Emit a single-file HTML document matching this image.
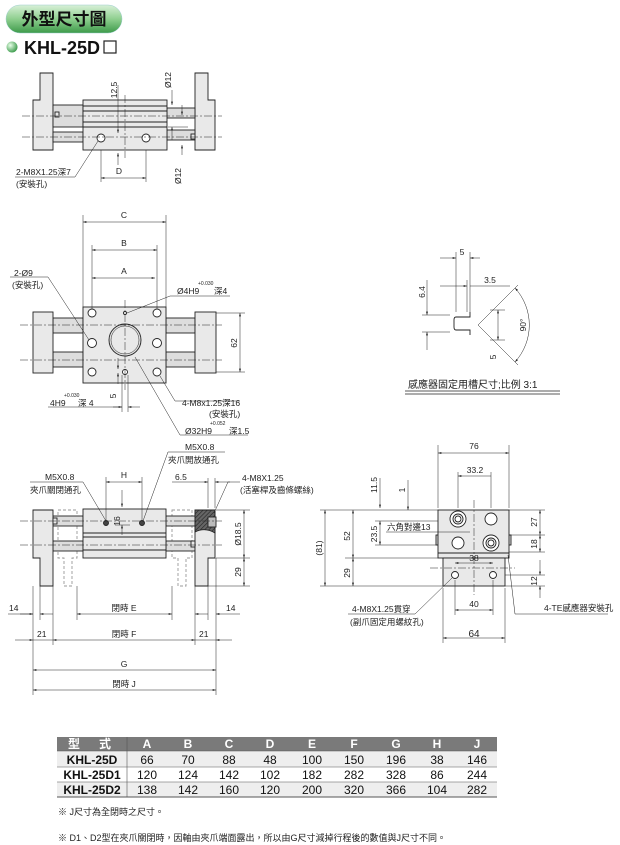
<!DOCTYPE html>
<html><head><meta charset="utf-8"><style>
html,body{margin:0;padding:0;background:#fff;}
svg{display:block;font-family:"Liberation Sans","Noto Sans CJK TC",sans-serif;}
</style></head><body>
<svg width="620" height="845" viewBox="0 0 620 845" xmlns="http://www.w3.org/2000/svg">
<defs>
<linearGradient id="pill" x1="0" y1="0" x2="0" y2="1"><stop offset="0" stop-color="#d8f0d8"/><stop offset="0.5" stop-color="#8fcf8f"/><stop offset="1" stop-color="#3d9a4a"/></linearGradient>
<radialGradient id="ball" cx="0.35" cy="0.35" r="0.7"><stop offset="0" stop-color="#e8ffe8"/><stop offset="1" stop-color="#3a9a4a"/></radialGradient>
<marker id="a" viewBox="0 0 10 6" refX="10" refY="3" markerWidth="7" markerHeight="4" orient="auto-start-reverse"><path d="M0,0L10,3L0,6z" fill="#222"/></marker>
<pattern id="hatch" width="3" height="3" patternUnits="userSpaceOnUse" patternTransform="rotate(45)"><rect width="3" height="3" fill="#666"/><line x1="0" y1="0" x2="0" y2="3" stroke="#222" stroke-width="1.2"/></pattern>
</defs>
<!-- header -->
<rect x="6" y="5" width="116" height="28" rx="14" fill="url(#pill)" stroke="#9cc" stroke-width="0.5"/>
<text x="64" y="25" font-size="17" font-weight="bold" text-anchor="middle" fill="#111">外型尺寸圖</text>
<circle cx="12" cy="47" r="5.5" fill="url(#ball)"/>
<text x="24" y="54" font-size="18" font-weight="bold" fill="#111">KHL-25D</text>
<rect x="104" y="41" width="12" height="12" fill="#fff" stroke="#222" stroke-width="1.2"/>

<g stroke="#222" stroke-width="0.9" fill="#e9e9e9" font-size="8.5">
<!-- Drawing 1 -->
<path d="M40,73H53V150H33V100H40Z"/>
<path d="M195,73H208V100H215V150H195Z"/>
<rect x="53" y="105" width="30" height="22" fill="#ddd"/>
<rect x="53" y="132" width="30" height="10" fill="#ddd"/>
<rect x="167" y="108" width="28" height="10" fill="#ddd"/>
<rect x="167" y="130" width="28" height="10" fill="#ddd"/>
<rect x="83" y="100" width="84" height="50"/>
<line x1="83" y1="106" x2="167" y2="106"/><line x1="83" y1="111" x2="167" y2="111"/><line x1="83" y1="122" x2="167" y2="122"/><line x1="83" y1="127" x2="167" y2="127"/>
<rect x="55" y="112" width="4" height="5"/><rect x="191" y="134" width="4" height="5"/>
<circle cx="101" cy="138" r="4" fill="#fff"/><circle cx="146" cy="138" r="4" fill="#fff"/>
<g fill="none" stroke-width="0.5" stroke-dasharray="8,2,2,2"><line x1="22" y1="116" x2="222" y2="116"/><line x1="22" y1="137" x2="222" y2="137"/><line x1="125" y1="95" x2="125" y2="158"/></g>
<g fill="none" stroke-width="0.5">
<line x1="101" y1="150" x2="101" y2="182"/><line x1="146" y1="150" x2="146" y2="182"/>
<line x1="101" y1="178" x2="146" y2="178" marker-start="url(#a)" marker-end="url(#a)"/>
<line x1="118" y1="85" x2="118" y2="133" marker-end="url(#a)"/><line x1="118" y1="165" x2="118" y2="153" marker-end="url(#a)"/>
<line x1="172" y1="90" x2="172" y2="105" marker-end="url(#a)"/><line x1="172" y1="140" x2="172" y2="127" marker-end="url(#a)"/>
<line x1="182" y1="105" x2="182" y2="115" marker-end="url(#a)"/><line x1="182" y1="155" x2="182" y2="145" marker-end="url(#a)"/>
<line x1="168" y1="127" x2="188" y2="127"/>
<polyline points="15,177 75,177 98,141"/>
</g>
<g fill="#222" stroke="none">
<text x="119" y="174" text-anchor="middle">D</text>
<text transform="translate(117,90) rotate(-90)" text-anchor="middle">12.5</text>
<text transform="translate(171,80) rotate(-90)" text-anchor="middle">Ø12</text>
<text transform="translate(181,176) rotate(-90)" text-anchor="middle">Ø12</text>
<text x="16" y="175">2-M8X1.25深7</text><text x="16" y="187">(安裝孔)</text>
</g>

<!-- Drawing 2 -->
<rect x="53" y="318" width="30" height="15" fill="#ddd"/><rect x="53" y="352" width="30" height="15" fill="#ddd"/>
<rect x="166" y="318" width="29" height="15" fill="#ddd"/><rect x="166" y="352" width="29" height="15" fill="#ddd"/>
<rect x="33" y="312" width="20" height="61"/><rect x="195" y="312" width="21" height="61"/>
<rect x="83" y="307" width="83" height="76"/>
<g fill="#fff"><circle cx="92" cy="313" r="4"/><circle cx="157" cy="313" r="4"/><circle cx="92" cy="343" r="4.5"/><circle cx="157" cy="343" r="4.5"/><circle cx="92" cy="372" r="4"/><circle cx="157" cy="372" r="4"/><circle cx="125" cy="313" r="1.5"/><circle cx="125" cy="372" r="2.5"/></g>
<circle cx="125" cy="340" r="16" fill="#ddd"/><circle cx="125" cy="340" r="14" fill="#e9e9e9" stroke-width="0.5"/>
<g fill="none" stroke-width="0.5">
<line x1="83" y1="215" x2="83" y2="307"/><line x1="166" y1="215" x2="166" y2="307"/>
<line x1="83" y1="222" x2="166" y2="222" marker-start="url(#a)" marker-end="url(#a)"/>
<line x1="92" y1="245" x2="92" y2="309"/><line x1="157" y1="245" x2="157" y2="309"/>
<line x1="92" y1="250" x2="157" y2="250" marker-start="url(#a)" marker-end="url(#a)"/>
<line x1="92" y1="278" x2="155" y2="278" marker-start="url(#a)" marker-end="url(#a)"/>
<line x1="216" y1="313" x2="245" y2="313"/><line x1="216" y1="372" x2="245" y2="372"/>
<line x1="240" y1="313" x2="240" y2="372" marker-start="url(#a)" marker-end="url(#a)"/>
<g stroke-dasharray="8,2,2,2"><line x1="20" y1="325" x2="222" y2="325"/><line x1="20" y1="360" x2="222" y2="360"/><line x1="125" y1="300" x2="125" y2="390"/></g>
<polyline points="10,277 48,277 89,340"/>
<polyline points="230,296 170,296 127,313"/>
<polyline points="240,401 175,401 160,376"/>
<polyline points="248,435 180,435 135,357"/>
<line x1="48" y1="407" x2="122" y2="407"/><line x1="122" y1="375" x2="122" y2="412"/><line x1="128" y1="375" x2="128" y2="412"/>
<line x1="113" y1="407" x2="122" y2="407" marker-end="url(#a)"/><line x1="140" y1="407" x2="128" y2="407" marker-end="url(#a)"/>
<line x1="118" y1="358" x2="118" y2="369" marker-end="url(#a)"/><line x1="118" y1="384" x2="118" y2="373" marker-end="url(#a)"/>
</g>
<g fill="#222" stroke="none">
<text x="124" y="218" text-anchor="middle">C</text><text x="124" y="246" text-anchor="middle">B</text><text x="124" y="274" text-anchor="middle">A</text>
<text transform="translate(237,343) rotate(-90)" text-anchor="middle">62</text>
<text x="14" y="276">2-Ø9</text><text x="12" y="288">(安裝孔)</text>
<text x="177" y="294">Ø4H9</text><text x="198" y="285" font-size="5">+0.030</text><text x="214" y="294">深4</text>
<text x="50" y="406">4H9</text><text x="64" y="397" font-size="5">+0.030</text><text x="78" y="406">深 4</text>
<text transform="translate(116,396) rotate(-90)" text-anchor="middle">5</text>
<text x="182" y="406">4-M8x1.25深16</text><text x="209" y="417">(安裝孔)</text>
<text x="185" y="434">Ø32H9</text><text x="210" y="425" font-size="5">+0.052</text><text x="229" y="434">深1.5</text>
</g>

<!-- Drawing 3 -->
<g fill="#fff" stroke-dasharray="3,2" stroke="#999"><path d="M58,510H77V558H72V586H64V558H58Z"/><path d="M172,510H192V558H186V586H178V558H172Z"/></g>
<rect x="53" y="516" width="30" height="10" fill="#ddd"/><rect x="53" y="541" width="30" height="10" fill="#ddd"/>
<rect x="166" y="516" width="29" height="10" fill="#ddd"/><rect x="166" y="541" width="29" height="10" fill="#ddd"/>
<path d="M33,510H53V586H40V558H33Z"/>
<path d="M195,510H215V558H208V586H195Z"/>
<path d="M195,510H215V533Q205,527 195,532Z" fill="url(#hatch)"/>
<rect x="208" y="517" width="8" height="10" fill="#bbb"/>
<rect x="83" y="509" width="83" height="49"/>
<line x1="83" y1="533" x2="166" y2="533"/><line x1="83" y1="537" x2="166" y2="537"/><line x1="83" y1="550" x2="166" y2="550"/>
<rect x="53" y="518" width="4" height="6"/><rect x="191" y="541" width="4" height="6"/>
<circle cx="106" cy="523" r="2.5" fill="#444"/><circle cx="142" cy="523" r="2.5" fill="#444"/>
<g fill="none" stroke-width="0.5">
<line x1="20" y1="521" x2="222" y2="521" stroke-dasharray="8,2,2,2"/><line x1="20" y1="545" x2="222" y2="545" stroke-dasharray="8,2,2,2"/>
<line x1="106" y1="477" x2="106" y2="520"/><line x1="142" y1="477" x2="142" y2="520"/>
<line x1="106" y1="482" x2="142" y2="482" marker-start="url(#a)" marker-end="url(#a)"/>
<line x1="122" y1="490" x2="122" y2="507" marker-end="url(#a)"/><line x1="122" y1="535" x2="122" y2="525" marker-end="url(#a)"/>
<line x1="115" y1="525" x2="130" y2="525"/>
<polyline points="30,482 83,482 106,521"/>
<polyline points="225,452 168,452 143,521"/>
<polyline points="240,482 228,482 214,513"/>
<line x1="208" y1="478" x2="208" y2="508"/><line x1="215" y1="478" x2="215" y2="508"/>
<line x1="172" y1="482" x2="208" y2="482" marker-end="url(#a)"/><line x1="230" y1="482" x2="215" y2="482" marker-end="url(#a)"/>
<line x1="216" y1="510" x2="250" y2="510"/><line x1="216" y1="558" x2="250" y2="558"/><line x1="208" y1="586" x2="250" y2="586"/>
<line x1="244" y1="510" x2="244" y2="558" marker-start="url(#a)" marker-end="url(#a)"/>
<line x1="244" y1="558" x2="244" y2="586" marker-start="url(#a)" marker-end="url(#a)"/>
<line x1="33" y1="586" x2="33" y2="695"/><line x1="216" y1="558" x2="216" y2="695"/>
<line x1="40" y1="586" x2="40" y2="620"/><line x1="53" y1="586" x2="53" y2="645"/><line x1="77" y1="586" x2="77" y2="620"/><line x1="172" y1="586" x2="172" y2="620"/><line x1="195" y1="586" x2="195" y2="645"/><line x1="208" y1="586" x2="208" y2="620"/>
<line x1="8" y1="614" x2="33" y2="614"/><line x1="53" y1="614" x2="40" y2="614" marker-end="url(#a)"/><line x1="20" y1="614" x2="33" y2="614" marker-end="url(#a)"/>
<line x1="77" y1="614" x2="172" y2="614" marker-start="url(#a)" marker-end="url(#a)"/>
<line x1="195" y1="614" x2="208" y2="614" marker-start="url(#a)"/><line x1="240" y1="614" x2="216" y2="614" marker-end="url(#a)"/>
<line x1="15" y1="640" x2="33" y2="640" marker-end="url(#a)"/><line x1="33" y1="640" x2="53" y2="640"/>
<line x1="53" y1="640" x2="195" y2="640" marker-start="url(#a)" marker-end="url(#a)"/>
<line x1="195" y1="640" x2="216" y2="640"/><line x1="232" y1="640" x2="216" y2="640" marker-end="url(#a)"/>
<line x1="33" y1="670" x2="216" y2="670" marker-start="url(#a)" marker-end="url(#a)"/>
<line x1="33" y1="690" x2="216" y2="690" marker-start="url(#a)" marker-end="url(#a)"/>
</g>
<g fill="#222" stroke="none">
<text x="124" y="478" text-anchor="middle">H</text>
<text transform="translate(120,521) rotate(-90)" text-anchor="middle">16</text>
<text x="45" y="480">M5X0.8</text><text x="30" y="493">夾爪關閉通孔</text>
<text x="185" y="450">M5X0.8</text><text x="168" y="463">夾爪開放通孔</text>
<text x="175" y="480">6.5</text>
<text x="242" y="481">4-M8X1.25</text><text x="240" y="493">(活塞桿及齒條螺絲)</text>
<text transform="translate(241,534) rotate(-90)" text-anchor="middle">Ø18.5</text>
<text transform="translate(241,572) rotate(-90)" text-anchor="middle">29</text>
<text x="9" y="611">14</text><text x="124" y="611" text-anchor="middle">閉時 E</text><text x="226" y="611">14</text>
<text x="37" y="637">21</text><text x="124" y="637" text-anchor="middle">閉時 F</text><text x="199" y="637">21</text>
<text x="124" y="667" text-anchor="middle">G</text><text x="124" y="687" text-anchor="middle">閉時 J</text>
</g>

<!-- Drawing 4 -->
<rect x="436" y="535" width="8" height="10" fill="#ddd"/><rect x="503" y="535" width="8" height="10" fill="#ddd"/>
<rect x="438" y="510" width="71" height="48"/>
<rect x="443" y="558" width="62" height="28"/>
<line x1="438" y1="553" x2="509" y2="553"/>
<g fill="#fff"><circle cx="458" cy="519" r="8"/><circle cx="458" cy="519" r="5"/><circle cx="458" cy="519" r="3"/><circle cx="491" cy="519" r="6"/><circle cx="458" cy="543" r="6"/><circle cx="491" cy="543" r="8"/><circle cx="491" cy="543" r="5"/><circle cx="491" cy="543" r="3"/><circle cx="455" cy="575" r="3.5"/><circle cx="493" cy="575" r="3.5"/></g>
<g fill="none" stroke-width="0.5">
<line x1="438" y1="445" x2="438" y2="508"/><line x1="509" y1="445" x2="509" y2="508"/>
<line x1="438" y1="453" x2="509" y2="453" marker-start="url(#a)" marker-end="url(#a)"/>
<line x1="458" y1="472" x2="458" y2="508"/><line x1="491" y1="472" x2="491" y2="508"/>
<line x1="458" y1="476" x2="491" y2="476" marker-start="url(#a)"/>
<line x1="320" y1="510" x2="438" y2="510"/><line x1="345" y1="558" x2="438" y2="558"/><line x1="320" y1="586" x2="443" y2="586"/>
<line x1="325" y1="510" x2="325" y2="586" marker-start="url(#a)" marker-end="url(#a)"/>
<line x1="353" y1="510" x2="353" y2="558" marker-start="url(#a)" marker-end="url(#a)"/>
<line x1="353" y1="558" x2="353" y2="586" marker-start="url(#a)" marker-end="url(#a)"/>
<line x1="380" y1="521" x2="380" y2="545" marker-start="url(#a)" marker-end="url(#a)"/>
<line x1="380" y1="478" x2="380" y2="508" marker-end="url(#a)"/>
<line x1="408" y1="480" x2="408" y2="510" marker-end="url(#a)"/>
<line x1="375" y1="521" x2="438" y2="521"/><line x1="375" y1="545" x2="438" y2="545"/>
<line x1="386" y1="532" x2="470" y2="532"/>
<line x1="509" y1="510" x2="545" y2="510"/><line x1="509" y1="535" x2="545" y2="535"/><line x1="509" y1="552" x2="545" y2="552"/><line x1="505" y1="575" x2="545" y2="575"/><line x1="505" y1="586" x2="545" y2="586"/>
<line x1="540" y1="510" x2="540" y2="535" marker-start="url(#a)" marker-end="url(#a)"/>
<line x1="540" y1="535" x2="540" y2="552" marker-start="url(#a)" marker-end="url(#a)"/>
<line x1="540" y1="560" x2="540" y2="575" marker-end="url(#a)"/><line x1="540" y1="598" x2="540" y2="586" marker-end="url(#a)"/>
<line x1="455" y1="563" x2="493" y2="563" marker-start="url(#a)" marker-end="url(#a)"/>
<line x1="455" y1="580" x2="455" y2="615"/><line x1="493" y1="580" x2="493" y2="615"/>
<line x1="455" y1="610" x2="493" y2="610" marker-start="url(#a)" marker-end="url(#a)"/>
<line x1="443" y1="588" x2="443" y2="643"/><line x1="505" y1="588" x2="505" y2="643"/>
<line x1="443" y1="638" x2="505" y2="638" marker-start="url(#a)" marker-end="url(#a)"/>
<polyline points="348,614 415,614 452,578"/>
<polyline points="608,614 515,614 508,555"/>
<g stroke-dasharray="8,2,2,2"><line x1="474" y1="500" x2="474" y2="595"/><line x1="430" y1="568" x2="515" y2="568"/></g>
</g>
<g fill="#222" stroke="none">
<text x="474" y="449" text-anchor="middle">76</text>
<text x="475" y="473" text-anchor="middle">33.2</text>
<text transform="translate(322,548) rotate(-90)" text-anchor="middle">(81)</text>
<text transform="translate(350,536) rotate(-90)" text-anchor="middle">52</text>
<text transform="translate(350,573) rotate(-90)" text-anchor="middle">29</text>
<text transform="translate(377,534) rotate(-90)" text-anchor="middle">23.5</text>
<text transform="translate(377,485) rotate(-90)" text-anchor="middle">11.5</text>
<text transform="translate(405,490) rotate(-90)" text-anchor="middle">1</text>
<text x="387" y="530">六角對邊13</text>
<text x="474" y="561" text-anchor="middle">38</text>
<text transform="translate(537,522) rotate(-90)" text-anchor="middle">27</text>
<text transform="translate(537,544) rotate(-90)" text-anchor="middle">18</text>
<text transform="translate(537,581) rotate(-90)" text-anchor="middle">12</text>
<text x="474" y="607" text-anchor="middle">40</text>
<text x="474" y="637" text-anchor="middle" font-size="10">64</text>
<text x="352" y="612">4-M8X1.25貫穿</text><text x="350" y="625">(副爪固定用螺紋孔)</text>
<text x="544" y="611">4-TE感應器安裝孔</text>
</g>

<!-- Drawing 5 -->
<path d="M470,312V317H456Q454,317 454,320V327Q454,330 456,330H470V335" fill="none"/>
<g fill="none" stroke-width="0.5">
<line x1="456" y1="252" x2="456" y2="312"/><line x1="470" y1="252" x2="470" y2="312"/><line x1="467" y1="280" x2="467" y2="312"/>
<line x1="440" y1="258" x2="456" y2="258" marker-end="url(#a)"/><line x1="480" y1="258" x2="470" y2="258" marker-end="url(#a)"/>
<line x1="440" y1="286" x2="467" y2="286" marker-end="url(#a)"/><line x1="510" y1="286" x2="470" y2="286"/>
<line x1="422" y1="315" x2="450" y2="315"/><line x1="422" y1="332" x2="450" y2="332"/>
<line x1="427" y1="280" x2="427" y2="315" marker-end="url(#a)"/><line x1="427" y1="350" x2="427" y2="332" marker-end="url(#a)"/>
<line x1="478" y1="325" x2="518" y2="285"/><line x1="478" y1="325" x2="518" y2="365"/>
<line x1="490" y1="310" x2="505" y2="310"/><line x1="490" y1="340" x2="505" y2="340"/>
<line x1="498" y1="310" x2="498" y2="340" marker-start="url(#a)" marker-end="url(#a)"/>
<path d="M515,288A55,55 0 0 1 515,362" marker-start="url(#a)" marker-end="url(#a)"/>
<line x1="405" y1="391" x2="560" y2="391" stroke-width="0.8"/><line x1="405" y1="394" x2="560" y2="394" stroke-width="0.8"/>
</g>
<g fill="#222" stroke="none">
<text x="462" y="255" text-anchor="middle">5</text>
<text x="490" y="283" text-anchor="middle">3.5</text>
<text transform="translate(425,292) rotate(-90)" text-anchor="middle">6.4</text>
<text transform="translate(496,357) rotate(-90)" text-anchor="middle">5</text>
<text transform="translate(526,325) rotate(-90)" text-anchor="middle">90°</text>
<text x="408" y="388" font-size="10">感應器固定用槽尺寸;比例 3:1</text>
</g>
</g>

<!-- Table -->
<g font-size="12" text-anchor="middle">
<rect x="57" y="737" width="440" height="14" fill="#7a7a7a"/>
<rect x="57" y="751" width="440" height="16" fill="#eee"/>
<rect x="57" y="767" width="440" height="15" fill="#fff"/>
<rect x="57" y="782" width="440" height="15" fill="#eee"/>
<g stroke="#555" stroke-width="0.6"><line x1="57" y1="751" x2="497" y2="751"/><line x1="57" y1="767" x2="497" y2="767"/><line x1="57" y1="782" x2="497" y2="782"/><line x1="57" y1="797" x2="497" y2="797" stroke-width="1"/>
<line x1="127" y1="737" x2="127" y2="797"/></g>
<g fill="#fff" font-weight="bold"><text x="74" y="748">型</text><text x="105" y="748">式</text>
<text x="147" y="748">A</text><text x="188" y="748">B</text><text x="229" y="748">C</text><text x="270" y="748">D</text><text x="312" y="748">E</text><text x="354" y="748">F</text><text x="396" y="748">G</text><text x="437" y="748">H</text><text x="477" y="748">J</text></g>
<g fill="#111">
<text x="92" y="764" font-weight="bold">KHL-25D</text><text x="147" y="764">66</text><text x="188" y="764">70</text><text x="229" y="764">88</text><text x="270" y="764">48</text><text x="312" y="764">100</text><text x="354" y="764">150</text><text x="396" y="764">196</text><text x="437" y="764">38</text><text x="477" y="764">146</text>
<text x="92" y="779" font-weight="bold">KHL-25D1</text><text x="147" y="779">120</text><text x="188" y="779">124</text><text x="229" y="779">142</text><text x="270" y="779">102</text><text x="312" y="779">182</text><text x="354" y="779">282</text><text x="396" y="779">328</text><text x="437" y="779">86</text><text x="477" y="779">244</text>
<text x="92" y="794" font-weight="bold">KHL-25D2</text><text x="147" y="794">138</text><text x="188" y="794">142</text><text x="229" y="794">160</text><text x="270" y="794">120</text><text x="312" y="794">200</text><text x="354" y="794">320</text><text x="396" y="794">366</text><text x="437" y="794">104</text><text x="477" y="794">282</text>
</g>
</g>
<text x="58" y="815" font-size="9" fill="#222">※ J尺寸為全閉時之尺寸。</text>
<text x="58" y="841" font-size="9" fill="#222">※ D1、D2型在夾爪關閉時，因軸由夾爪端面露出，所以由G尺寸減掉行程後的數值與J尺寸不同。</text>
</svg>
</body></html>
